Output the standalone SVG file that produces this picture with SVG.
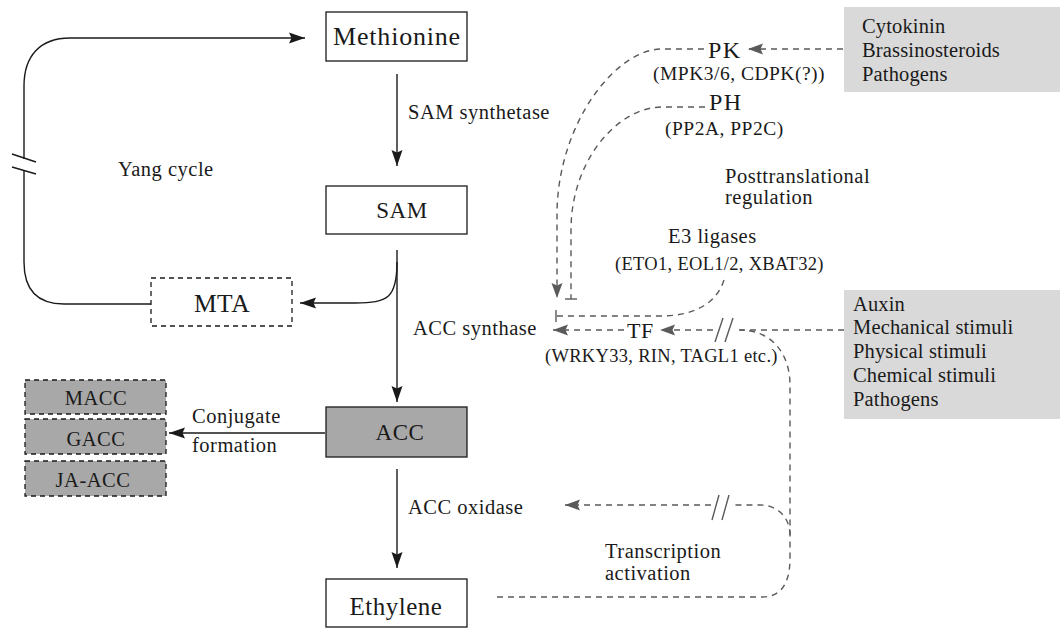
<svg xmlns="http://www.w3.org/2000/svg" width="1060" height="629" viewBox="0 0 1060 629">
<defs>
<style>
text{font-family:"Liberation Serif","Times New Roman",serif;fill:#1a1a1a;}
.t{font-size:20.5px;letter-spacing:0.5px;}
.st{font-size:20.5px;letter-spacing:0.15px;}
.s{font-size:19.5px;letter-spacing:0.5px;}
.xs{font-size:18.5px;letter-spacing:0.3px;}
.big{font-size:24px;letter-spacing:1.5px;}
.box{fill:#fff;stroke:#1a1a1a;stroke-width:1.3;}
.gbox{fill:#a8a8a8;stroke:#1a1a1a;stroke-width:1.3;}
.dbox{fill:#fff;stroke:#1a1a1a;stroke-width:1.3;stroke-dasharray:5 4;}
.dgbox{fill:#a8a8a8;stroke:#1a1a1a;stroke-width:1.3;stroke-dasharray:5 4;}
.lbox{fill:#d9d9d9;stroke:none;}
.solid{fill:none;stroke:#1a1a1a;stroke-width:1.4;}
.dash{fill:none;stroke:#5a5a5a;stroke-width:1.4;stroke-dasharray:6 5;}
.brk{fill:none;stroke:#5a5a5a;stroke-width:1.4;}
</style>
<marker id="ab" markerUnits="userSpaceOnUse" markerWidth="18" markerHeight="12" refX="16" refY="6" orient="auto">
<path d="M0,0.5 L16,6 L0,11.5 L2.5,6 z" fill="#1a1a1a"/>
</marker>
<marker id="ag" markerUnits="userSpaceOnUse" markerWidth="16" markerHeight="12" refX="15" refY="6" orient="auto">
<path d="M0,0.5 L15,6 L0,11.5 L2.5,6 z" fill="#5a5a5a"/>
</marker>
</defs>

<g id="connectors">
<path class="solid" d="M151,304 L64,304 C38,304 24,290 24,262 L24,170"/>
<path class="solid" d="M24,159 L24,86 C24,56 40,38 70,38 L305,38" marker-end="url(#ab)"/>
<path class="solid" d="M12,154 L36,162 M12,167 L36,174"/>
<path class="solid" d="M397,74 L397,166" marker-end="url(#ab)"/>
<path class="solid" d="M397,250 L397,402" marker-end="url(#ab)"/>
<path class="solid" d="M397,262 C397,298 388,303 355,303 L300,303" marker-end="url(#ab)"/>
<path class="solid" d="M325,433 L169,433" marker-end="url(#ab)"/>
<path class="solid" d="M397,469 L397,568" marker-end="url(#ab)"/>
<path class="dash" d="M843,49 L748,49" marker-end="url(#ag)"/>
<path class="dash" d="M704,49 L662,49 C615,49 557,125 557,215 L557,298" marker-end="url(#ag)"/>
<path class="dash" d="M705,107 L662,107 C618,107 571,160 571,230 L571,299"/>
<path class="brk" d="M565,299 L577,299"/>
<path class="dash" d="M724,280 C716,305 692,316 660,316 L556,316"/>
<path class="brk" d="M556,310 L556,322"/>
<path class="dash" d="M844,330 L737,330"/>
<path class="dash" d="M713,330 L660,330" marker-end="url(#ag)"/>
<path class="brk" d="M715,342 L723,318 M725,342 L733,318"/>
<path class="dash" d="M624,330 L553,330" marker-end="url(#ag)"/>
<path class="dash" d="M497,597 L762,597 C780,597 790,585 790,558 L790,385 C790,352 770,330 740,330"/>
<path class="dash" d="M790,535 C790,518 778,505 760,505 L733,505"/>
<path class="dash" d="M711,505 L565,505" marker-end="url(#ag)"/>
<path class="brk" d="M712,520 L719,495 M722,520 L729,495"/>
</g>

<g id="node-methionine">
<rect class="box" x="326" y="12" width="141" height="49"/>
<text x="397" y="45" text-anchor="middle" style="font-size:26px;letter-spacing:0.8px">Methionine</text>
</g>
<g id="node-sam">
<rect class="box" x="326" y="186" width="141" height="48"/>
<text x="402" y="218" text-anchor="middle" style="font-size:23px;letter-spacing:0.5px">SAM</text>
</g>
<g id="node-mta">
<rect class="dbox" x="151" y="278" width="141" height="48"/>
<text x="222" y="312" text-anchor="middle" style="font-size:25.5px;letter-spacing:0.5px">MTA</text>
</g>
<g id="node-acc">
<rect class="gbox" x="326" y="407" width="141" height="50"/>
<text x="400" y="440" text-anchor="middle" style="font-size:23px;letter-spacing:0.5px">ACC</text>
</g>
<g id="node-ethylene">
<rect class="box" x="326" y="579" width="141" height="48"/>
<text x="396" y="615" text-anchor="middle" style="font-size:25px;letter-spacing:0.5px">Ethylene</text>
</g>
<g id="node-macc">
<rect class="dgbox" x="25" y="380" width="141" height="34"/>
<text class="t" x="96" y="405" text-anchor="middle">MACC</text>
</g>
<g id="node-gacc">
<rect class="dgbox" x="25" y="419" width="141" height="35"/>
<text class="t" x="96" y="446" text-anchor="middle">GACC</text>
</g>
<g id="node-jaacc">
<rect class="dgbox" x="25" y="461" width="141" height="35"/>
<text class="t" x="93" y="487" text-anchor="middle">JA-ACC</text>
</g>
<g id="node-stimuli1">
<rect class="lbox" x="844" y="7" width="216" height="85"/>
<text class="st" x="862" y="33">Cytokinin</text>
<text class="st" x="862" y="57">Brassinosteroids</text>
<text class="st" x="862" y="81">Pathogens</text>
</g>
<g id="node-stimuli2">
<rect class="lbox" x="844" y="290" width="216" height="129"/>
<text class="st" x="853" y="310.5">Auxin</text>
<text class="st" x="853" y="334">Mechanical stimuli</text>
<text class="st" x="853" y="358">Physical stimuli</text>
<text class="st" x="853" y="382">Chemical stimuli</text>
<text class="st" x="853" y="405.5">Pathogens</text>
</g>
<g id="node-pk">
<text class="big" x="708" y="58">PK</text>
<text class="s" x="653" y="80">(MPK3/6, CDPK(?))</text>
</g>
<g id="node-ph">
<text class="big" x="709" y="110">PH</text>
<text class="s" x="665" y="135">(PP2A, PP2C)</text>
</g>
<g id="node-e3">
<text class="t" x="668" y="243">E3 ligases</text>
<text class="xs" x="615" y="270">(ETO1, EOL1/2, XBAT32)</text>
</g>
<g id="node-tf">
<text x="627" y="338" style="font-size:22px;letter-spacing:0.5px">TF</text>
<text class="xs" x="545" y="362">(WRKY33, RIN, TAGL1 etc.)</text>
</g>
<g id="labels">
<text class="t" x="408" y="119">SAM synthetase</text>
<text class="t" x="118" y="176">Yang cycle</text>
<text class="t" x="413" y="335">ACC synthase</text>
<text class="t" x="192" y="423">Conjugate</text>
<text class="t" x="192" y="452">formation</text>
<text class="t" x="408" y="514">ACC oxidase</text>
<text class="t" x="605" y="558">Transcription</text>
<text class="t" x="605" y="580">activation</text>
<text class="t" x="725" y="183">Posttranslational</text>
<text class="t" x="725" y="204">regulation</text>
</g>
</svg>
